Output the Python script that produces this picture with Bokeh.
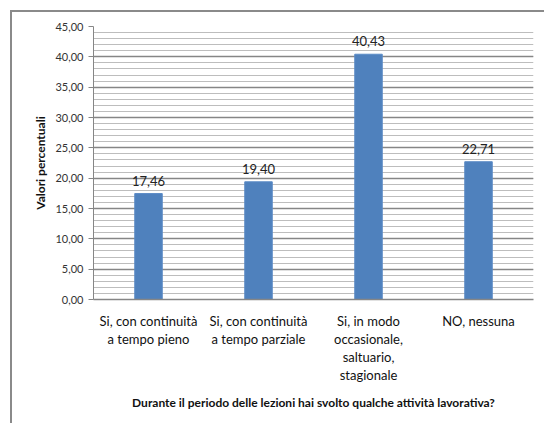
from bokeh.plotting import figure
from bokeh.models import (FactorRange, Range1d, SingleIntervalTicker, CustomJSTickFormatter,
                          ColumnDataSource, InlineStyleSheet)
from bokeh.core.properties import value
from bokeh.embed import file_html
from bokeh.resources import INLINE

categories = ["Si, con continuità\na tempo pieno",
              "Si, con continuità\na tempo parziale",
              "Si, in modo\noccasionale,\nsaltuario,\nstagionale",
              "NO, nessuna"]
values = [17.46, 19.40, 40.43, 22.71]
x_title = "Durante il periodo delle lezioni hai svolto qualche attività lavorativa?"
y_title = "Valori percentuali"

FONT = "Lato"

src = ColumnDataSource(dict(
    x=categories, top=values,
    lbl=[f"{v:.2f}".replace(".", ",") for v in values]))

p = figure(width=544, height=423, x_range=FactorRange(factors=categories, range_padding=0),
           y_range=Range1d(0, 45), output_backend="svg", toolbar_location=None,
           min_border_left=93, min_border_right=11, min_border_top=26, min_border_bottom=124)
p.outline_line_color = None
p.background_fill_color = "white"
p.border_fill_color = "white"

p.vbar(x="x", top="top", width=0.25, source=src, fill_color="#4F81BD", line_color="#5B8BC6")
p.text(x="x", y="top", text="lbl", source=src, text_align="center", text_baseline="bottom",
       y_offset=-8, text_font=value(FONT), text_font_size="13px", text_color="#222222")

# y axis
p.yaxis.ticker = SingleIntervalTicker(interval=5, num_minor_ticks=5)
p.yaxis.formatter = CustomJSTickFormatter(code="return tick.toFixed(2).replace('.', ',');")
p.yaxis.major_label_text_font = FONT
p.yaxis.major_label_text_font_size = "11px"
p.yaxis.major_label_text_color = "#333333"
p.yaxis.axis_line_color = "#868686"
p.yaxis.major_tick_line_color = "#868686"
p.yaxis.major_tick_in = 0
p.yaxis.major_tick_out = 5
p.yaxis.minor_tick_line_color = None
p.yaxis.axis_label = y_title
p.yaxis.axis_label_text_font = FONT
p.yaxis.axis_label_text_font_style = "bold"
p.yaxis.axis_label_text_font_size = "12px"
p.yaxis.axis_label_text_color = "#111111"
p.yaxis.axis_label_standoff = 4

# grid
p.ygrid.grid_line_color = "#868686"
p.ygrid.grid_line_width = 1.5
p.ygrid.minor_grid_line_color = "#BDBDBD"
p.ygrid.minor_grid_line_width = 1.2
p.xgrid.grid_line_color = None

# x axis
p.xaxis.major_tick_line_color = None
p.xaxis.major_tick_out = 0
p.xaxis.axis_line_color = "#868686"
p.xaxis.axis_line_width = 1.5
p.xaxis.major_label_text_font = FONT
p.xaxis.major_label_text_font_size = "13px"
p.xaxis.major_label_text_color = "#111111"
p.xaxis.major_label_text_line_height = 1.13
p.xaxis.major_label_standoff = 13
p.xaxis.axis_label = x_title
p.xaxis.axis_label_text_font = FONT
p.xaxis.axis_label_text_font_style = "bold"
p.xaxis.axis_label_text_font_size = "12px"
p.xaxis.axis_label_text_color = "#111111"
p.xaxis.axis_label_standoff = 9

# outer chart border (cropped at right/bottom in the reference)
p.stylesheets = [InlineStyleSheet(css="""
:host::after {
  content: "";
  position: absolute;
  left: 10px; top: 10px; right: 0px; bottom: 0px;
  border-left: 2px solid #8A8A8A;
  border-top: 2px solid #8A8A8A;
  pointer-events: none;
  z-index: 10;
}
""")]

open("out.html", "w").write(file_html(p, INLINE))
